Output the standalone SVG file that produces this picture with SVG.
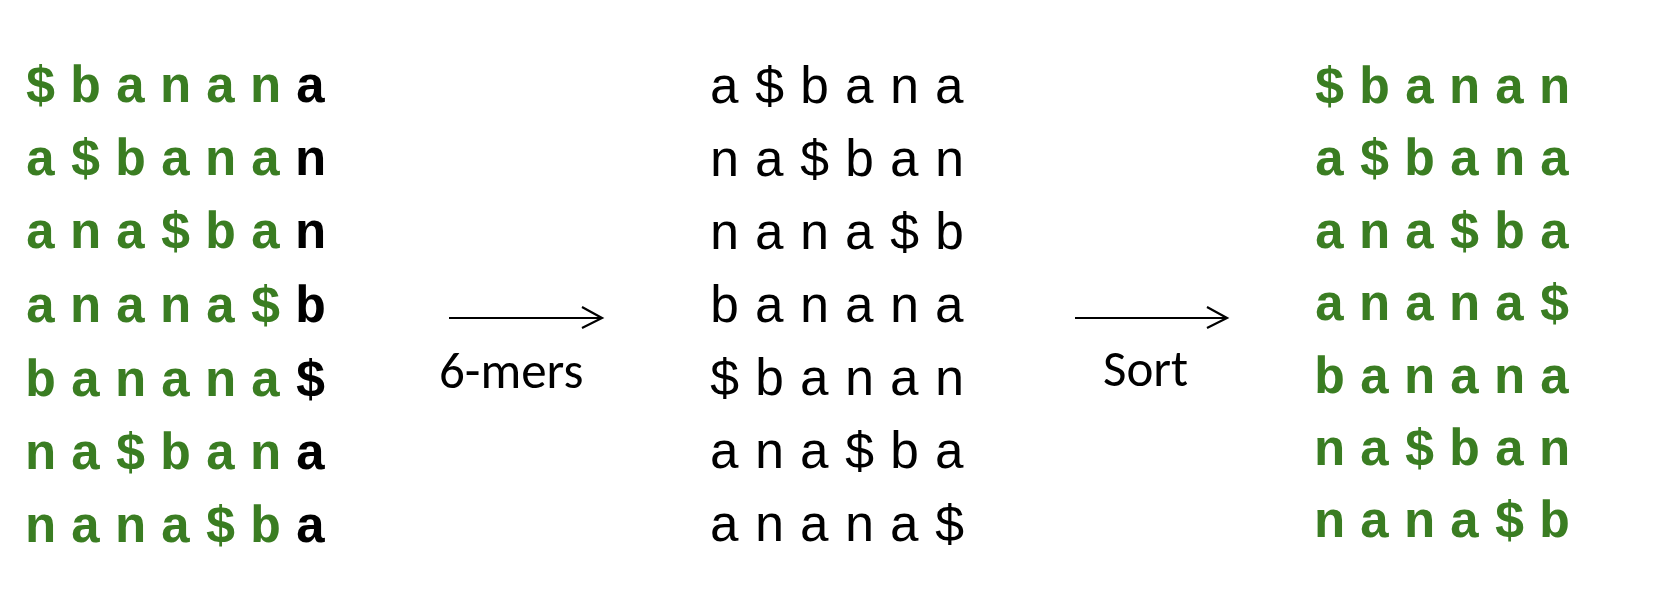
<svg xmlns="http://www.w3.org/2000/svg" width="1670" height="598" viewBox="0 0 1670 598">
<style>
.bold{font-family:"Courier New","Liberation Mono",monospace;font-weight:bold;font-size:52px;letter-spacing:13.8px;fill:#3a7d22}
.k{fill:#000}
.reg{font-family:"Courier New","Liberation Mono",monospace;font-weight:normal;font-size:52px;letter-spacing:13.8px;fill:#000}
.lbl{font-family:Calibri,"Liberation Sans",sans-serif;font-size:51px;fill:#000}
.arr{stroke:#000;stroke-width:2.2;fill:none}
</style>
<rect width="1670" height="598" fill="#fff"/>
<g id="rotations">
<text class="bold" x="25" y="102">$banan<tspan class="k">a</tspan></text>
<text class="bold" x="25" y="175">a$bana<tspan class="k">n</tspan></text>
<text class="bold" x="25" y="248">ana$ba<tspan class="k">n</tspan></text>
<text class="bold" x="25" y="322">anana$<tspan class="k">b</tspan></text>
<text class="bold" x="25" y="396">banana<tspan class="k">$</tspan></text>
<text class="bold" x="25" y="469">na$ban<tspan class="k">a</tspan></text>
<text class="bold" x="25" y="542">nana$b<tspan class="k">a</tspan></text>
</g>
<g id="kmers">
<text class="reg" x="709" y="103">a$bana</text>
<text class="reg" x="709" y="176">na$ban</text>
<text class="reg" x="709" y="249">nana$b</text>
<text class="reg" x="709" y="322">banana</text>
<text class="reg" x="709" y="395">$banan</text>
<text class="reg" x="709" y="468">ana$ba</text>
<text class="reg" x="709" y="541">anana$</text>
</g>
<g id="sorted">
<text class="bold" x="1314" y="103">$banan</text>
<text class="bold" x="1314" y="175">a$bana</text>
<text class="bold" x="1314" y="248">ana$ba</text>
<text class="bold" x="1314" y="320">anana$</text>
<text class="bold" x="1314" y="393">banana</text>
<text class="bold" x="1314" y="465">na$ban</text>
<text class="bold" x="1314" y="537">nana$b</text>
</g>
<g id="connectors">
<g id="arrow-6mers">
<path class="arr" d="M449 318 H601"/>
<path class="arr" d="M582 307 L602 318 L582 328"/>
<text class="lbl" x="439" y="388">6-mers</text>
</g>
<g id="arrow-sort">
<path class="arr" d="M1075 318 H1226"/>
<path class="arr" d="M1207 307 L1227 318 L1207 328"/>
<text class="lbl" x="1103" y="386">Sort</text>
</g>
</g>
</svg>
